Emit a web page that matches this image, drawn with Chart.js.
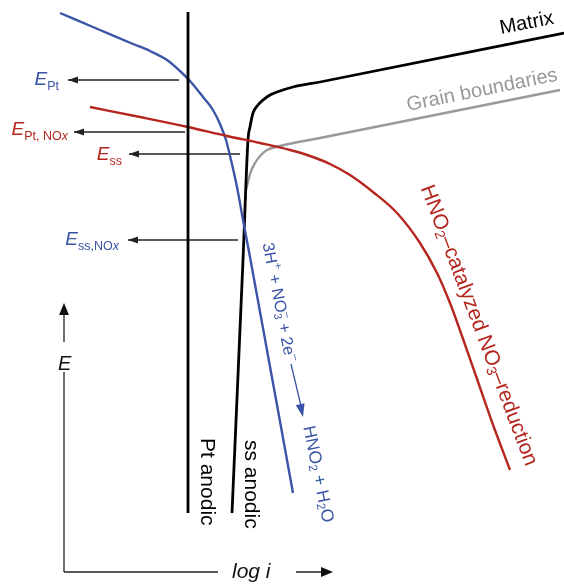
<!DOCTYPE html>
<html><head><meta charset="utf-8">
<script src="https://cdn.jsdelivr.net/npm/chart.js@4/dist/chart.umd.min.js"></script>
<style>html,body{margin:0;padding:0;background:#fff}#w{width:564px;height:586px}</style>
</head><body><div id="w"><canvas id="c" width="564" height="586"></canvas></div>
<script>
// Schematic polarisation diagram: x = log i (arbitrary units), y = E (arbitrary units)
const ptAnodic = [[188,574],[188,73]];
const ssAnodicMatrix = [[232,73],[243,326],[248,446],[250,459],[253,473],[258,481],[263,486],[270,491],[277,494],[293,499],[320,504],[564,553]];
const grainBoundaries = [[246,396],[248,404],[250,412],[255,423],[261,431],[267,436],[280,440],[320,448],[560,496]];
const no3ReductionPt = [[60,573],[100,556],[133,542],[150,535],[167,526],[180,515],[190,505],[203,489],[213,476],[220,462],[226,446],[231,426],[237,399],[243,366],[250,329],[293,93]];
const hno2Catalyzed = [[90,479],[140,469],[188,459],[227,450],[260,443],[290,436],[310,430],[330,422],[350,411],[373,394],[397,373],[420,343],[437,313],[450,283],[462,250],[476,210],[492,164],[510,116]];
const potentialNames = ['Pt', 'Pt, NOx', 'ss', 'ss,NOx'];
const potentialValues = [506, 454, 432, 346];
const potentialFrom = [179, 185, 240, 238];
const potentialTo = [68, 74, 129, 128];
const axisOrigin = [64, 14];
const axisEnd = [333, 283];

const BLUE = '#3a55a6', RED = '#b5261e', GRAY = '#999999';
const FAM = '"Liberation Sans", Arial, Helvetica, sans-serif';
const toPts = a => a.map(p => ({x: p[0], y: p[1]}));

function line(data, color, width, mode) {
  return {data: toPts(data), showLine: true, borderColor: color, borderWidth: width,
    pointRadius: 0, fill: false, tension: 0,
    cubicInterpolationMode: mode === 'mono' ? 'monotone' : 'default'};
}

const datasets = [
  line(ptAnodic, '#000', 2.8, 'straight'),
  line(hno2Catalyzed, RED, 2.4, 'mono'),
  line(no3ReductionPt, BLUE, 2.4, 'mono'),
  line(ssAnodicMatrix, '#000', 2.8, 'mono'),
  line(grainBoundaries, GRAY, 2.4, 'mono'),
];
potentialValues.forEach((v, i) => {
  datasets.push({data: [{x: potentialFrom[i], y: v}, {x: potentialTo[i], y: v}], showLine: true,
    borderColor: '#222', borderWidth: 1.3, pointRadius: 0, tension: 0});
});

function head(ctx, x1, y1, x2, y2, len, hw, color) {
  const a = Math.atan2(y2 - y1, x2 - x1);
  ctx.save(); ctx.translate(x2, y2); ctx.rotate(a);
  ctx.beginPath(); ctx.moveTo(0, 0); ctx.lineTo(-len, -hw); ctx.lineTo(-len, hw); ctx.closePath();
  ctx.fillStyle = color; ctx.fill(); ctx.restore();
}

// rich text: parts {t, s (size), dy, it (italic), stay (don't advance)}
function rich(ctx, parts, x, y, angle, color, align, baseline) {
  ctx.save(); ctx.translate(x, y); ctx.rotate(angle * Math.PI / 180);
  ctx.fillStyle = color; ctx.textBaseline = baseline || 'alphabetic'; ctx.textAlign = 'left';
  let total = 0, pend = 0;
  const widths = parts.map(p => { ctx.font = (p.it ? 'italic ' : '') + p.s + 'px ' + FAM; return ctx.measureText(p.t).width; });
  parts.forEach((p, i) => { if (p.stay) pend = Math.max(pend, widths[i]); else { total += Math.max(widths[i], pend); pend = 0; } });
  let cx = align === 'right' ? -total : 0; pend = 0;
  parts.forEach((p, i) => {
    ctx.font = (p.it ? 'italic ' : '') + p.s + 'px ' + FAM;
    ctx.fillText(p.t, cx, p.dy || 0);
    if (p.stay) pend = Math.max(pend, widths[i]); else { cx += Math.max(widths[i], pend); pend = 0; }
  });
  ctx.restore();
}

const annot = {
  id: 'annot',
  afterDatasetsDraw(chart) {
    const ctx = chart.ctx, X = chart.scales.x, Y = chart.scales.y;
    const px = v => X.getPixelForValue(v), py = v => Y.getPixelForValue(v);
    potentialValues.forEach((v, i) => head(ctx, px(potentialFrom[i]), py(v), px(potentialTo[i]), py(v), 10, 3.6, '#222'));
    ctx.save(); ctx.strokeStyle = '#222'; ctx.lineWidth = 1.3;
    const ox = px(axisOrigin[0]), oy = py(axisOrigin[1]);
    ctx.beginPath();
    ctx.moveTo(ox, oy); ctx.lineTo(ox, oy - 200);
    ctx.moveTo(ox, oy - 230); ctx.lineTo(ox, py(axisEnd[1]) + 8);
    ctx.moveTo(ox, oy); ctx.lineTo(ox + 154, oy);
    ctx.moveTo(ox + 232, oy); ctx.lineTo(px(axisEnd[0]) - 8, oy);
    ctx.stroke(); ctx.restore();
    head(ctx, ox, oy - 100, ox, py(axisEnd[1]), 12, 5, '#111');
    head(ctx, ox + 240, oy, px(axisEnd[0]), oy, 12, 5, '#111');
    rich(ctx, [{t: 'E', s: 20, it: true}], ox - 6, oy - 208, 0, '#111', 'left', 'middle');
    rich(ctx, [{t: 'log i', s: 21, it: true}], ox + 168, oy, 0, '#111', 'left', 'middle');
    const labCol = [BLUE, RED, RED, BLUE];
    const labX = [59, 68, 122, 119];
    const labDy = [5, 3, 6, 5];
    potentialValues.forEach((v, i) => {
      const sub = potentialNames[i];
      const parts = [{t: 'E', s: 19, it: true}];
      if (sub.endsWith('x')) {
        parts.push({t: sub.slice(0, -1), s: 12.5, dy: 5});
        parts.push({t: 'x', s: 12.5, dy: 5, it: true});
      } else parts.push({t: sub, s: 12.5, dy: 5});
      rich(ctx, parts, labX[i], py(v) + labDy[i], 0, labCol[i], 'right');
    });
    rich(ctx, [{t: 'Pt anodic', s: 21}], 201, 438, 90, '#000');
    rich(ctx, [{t: 'ss anodic', s: 21}], 245, 440, 90, '#000');
    rich(ctx, [{t: 'Matrix', s: 20}], 501, 34, -11, '#000');
    rich(ctx, [{t: 'Grain boundaries', s: 20}], 408, 111, -11.5, GRAY);
    rich(ctx, [{t: 'HNO', s: 21}, {t: '2', s: 14, dy: 5}, {t: '\u2013catalyzed NO', s: 21}, {t: '3', s: 14, dy: 5}, {t: '\u2013reduction', s: 21}],
      426, 186, 69.3, RED, 'left', 'middle');
    rich(ctx, [{t: '3H', s: 16.5}, {t: '+', s: 11, dy: -6}, {t: ' + NO', s: 16.5}, {t: '3', s: 11, dy: 4, stay: true}, {t: '\u2013', s: 11, dy: -6},
      {t: ' + 2e', s: 16.5}, {t: '\u2013', s: 11, dy: -6}], 267, 243, 79, BLUE, 'left', 'middle');
    rich(ctx, [{t: 'HNO', s: 17.5}, {t: '2', s: 12, dy: 4}, {t: ' + H', s: 17.5}, {t: '2', s: 12, dy: 4}, {t: 'O', s: 17.5}],
      308, 426, 78.5, BLUE, 'left', 'middle');
    ctx.save(); ctx.strokeStyle = BLUE; ctx.lineWidth = 1.3;
    ctx.beginPath(); ctx.moveTo(px(291), py(222)); ctx.lineTo(px(301), py(180)); ctx.stroke(); ctx.restore();
    head(ctx, px(291), py(222), px(303), py(169), 13, 4.5, BLUE);
  }
};

new Chart(document.getElementById('c'), {
  type: 'scatter',
  data: {datasets},
  options: {
    responsive: false, animation: false, events: [],
    layout: {padding: 0},
    plugins: {legend: {display: false}, tooltip: {enabled: false}},
    scales: {x: {type: 'linear', min: 0, max: 564, display: false}, y: {type: 'linear', min: 0, max: 586, display: false}}
  },
  plugins: [annot]
});
</script></body></html>
